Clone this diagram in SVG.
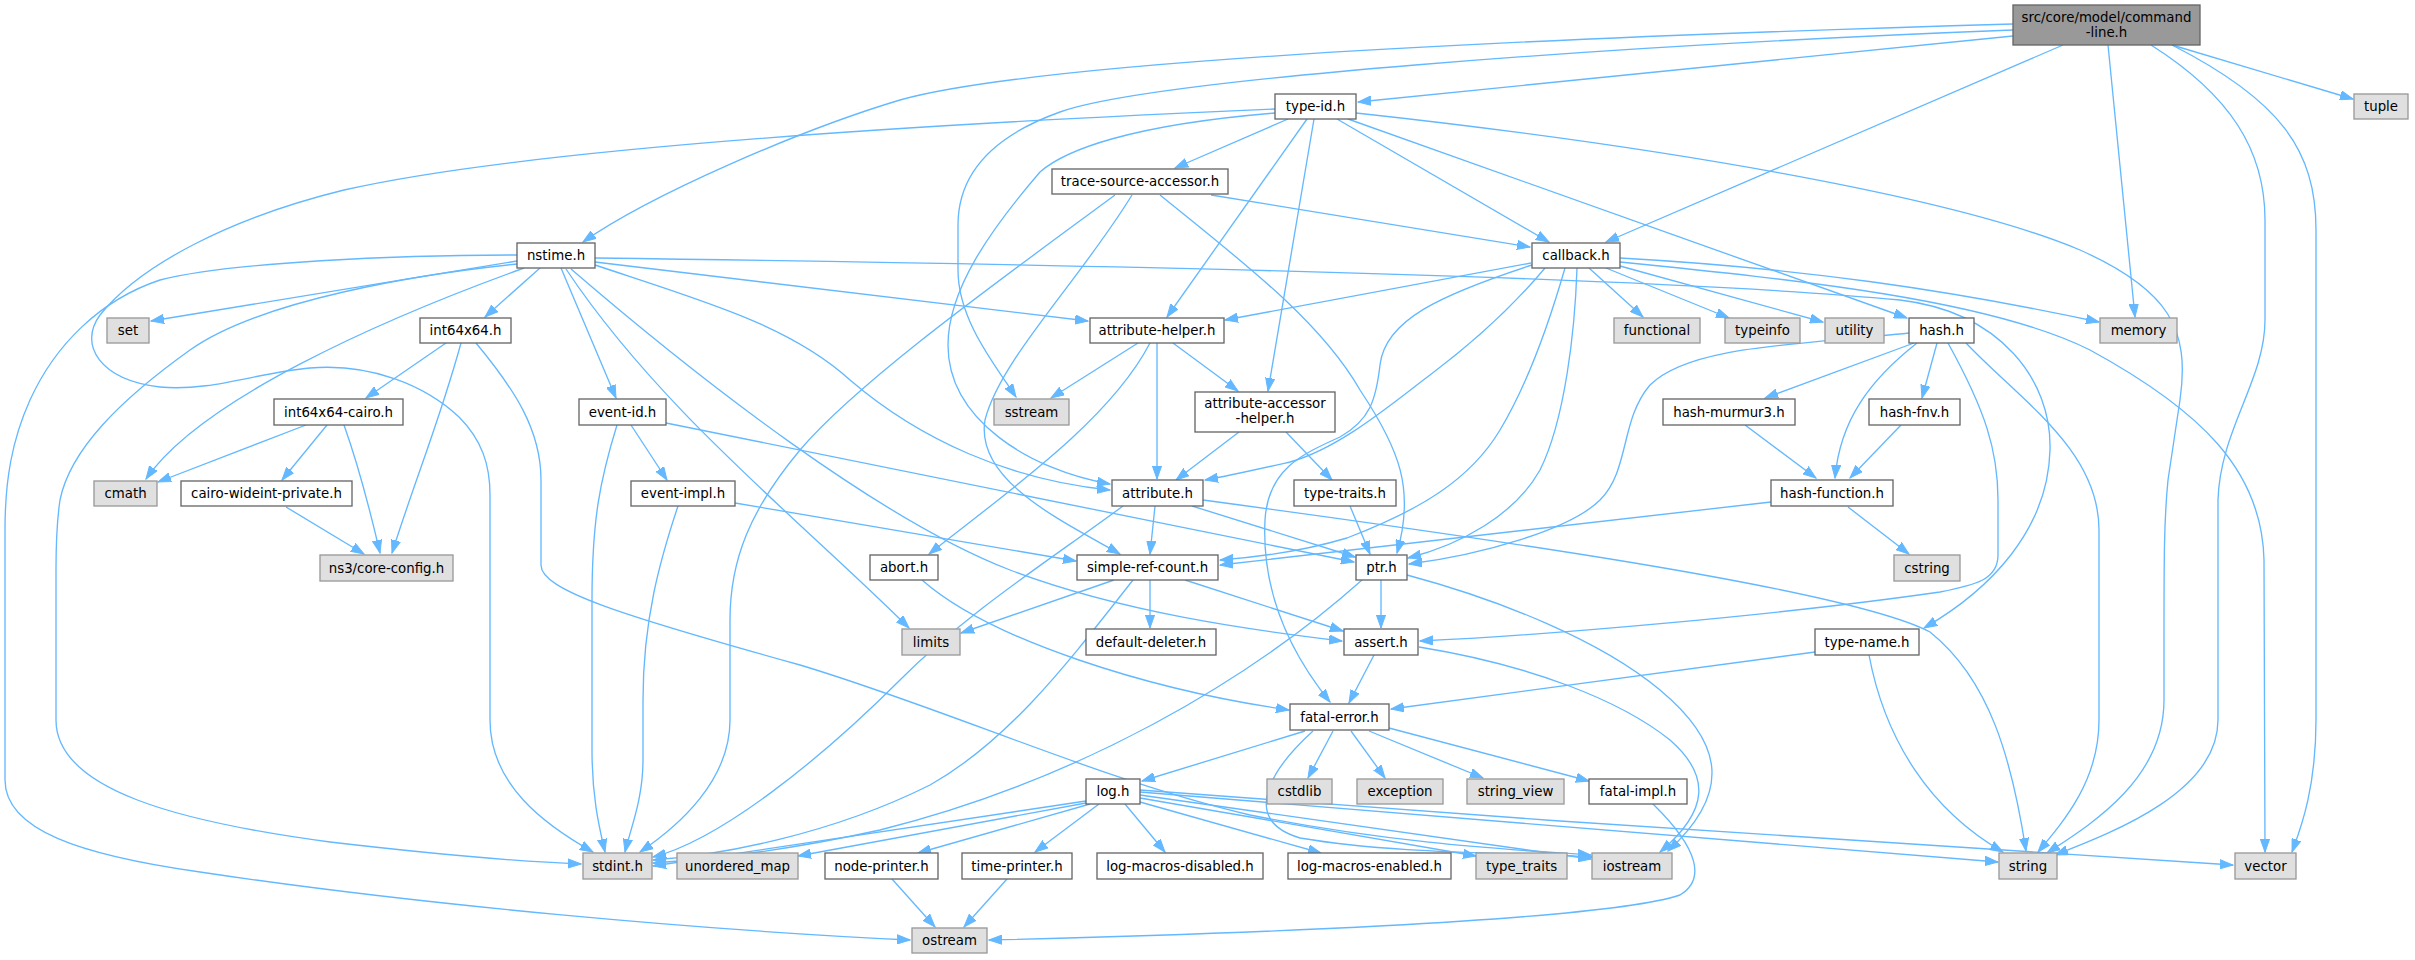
<svg xmlns="http://www.w3.org/2000/svg" width="2415" height="960" viewBox="0 0 2415 960">
<defs>
<style>
.w rect{fill:#ffffff;stroke:#666666;stroke-width:1.33}
.g rect{fill:#e0e0e0;stroke:#999999;stroke-width:1.33}
.r rect{fill:#999999;stroke:#666666;stroke-width:1.33}
text{font-family:"DejaVu Sans","Liberation Sans",sans-serif;font-size:13.33px;fill:#000000;text-anchor:middle}
#edges path{fill:none;stroke:#63b8ff;stroke-width:1.33;marker-end:url(#arr)}
</style>
<marker id="arr" markerWidth="14" markerHeight="10" refX="13" refY="5" orient="auto" markerUnits="userSpaceOnUse">
<path d="M0,0.4 L13,5 L0,9.6 z" fill="#63b8ff" stroke="#63b8ff" stroke-width="1"/>
</marker>
</defs>
<rect x="0" y="0" width="2415" height="960" fill="#ffffff"/>
<g id="edges">
<path d="M2013,24 C1600,36 1050,58 900,100 C800,130 650,195 583,242"/>
<path d="M2013,36 L1358,102"/>
<path d="M2013,30 C1600,46 1150,80 1060,112 C990,137 958,175 958,225 L958,270 C958,320 995,365 1016,397"/>
<path d="M2063,45 L1606,242"/>
<path d="M2108,45 L2135,317"/>
<path d="M2151,45 C2230,95 2265,150 2265,220 L2265,320 C2265,380 2220,430 2218,500 L2218,720 C2218,790 2120,830 2055,855"/>
<path d="M2172,45 C2280,100 2316,150 2316,230 L2316,720 C2316,790 2300,830 2292,852"/>
<path d="M2172,45 L2353,99"/>
<path d="M1275,109 C900,125 520,150 344,190 C230,218 140,265 100,315 C78,345 100,380 160,387 C210,392 260,372 310,368 C370,363 425,385 459,417 C482,440 490,465 490,495 L490,720 C490,785 545,825 593,852"/>
<path d="M1288,119 L1175,168"/>
<path d="M1275,113 C1130,125 1065,150 1040,172 C990,230 948,290 948,345 C948,420 1030,470 1110,484"/>
<path d="M1307,119 L1167,317"/>
<path d="M1314,119 L1268,391"/>
<path d="M1337,119 L1549,242"/>
<path d="M1348,119 L1907,318"/>
<path d="M1356,113 C1650,145 1950,195 2080,250 C2170,290 2190,330 2180,400 L2168,480 C2164,520 2164,560 2164,640 L2164,700 C2164,780 2090,825 2047,853"/>
<path d="M1115,195 C1000,280 860,380 800,450 C750,510 730,560 730,620 L730,720 C730,780 680,825 640,852"/>
<path d="M1132,195 C1080,280 1000,360 985,420 C975,480 1060,520 1120,554"/>
<path d="M1160,195 C1240,260 1320,320 1360,390 C1400,450 1415,490 1397,553"/>
<path d="M1211,195 L1530,247"/>
<path d="M517,255 C400,255 230,262 160,280 C100,300 55,345 30,400 C12,440 5,480 5,530 L5,780 C5,830 80,855 200,872 C420,905 700,930 910,940"/>
<path d="M517,261 L151,321"/>
<path d="M517,264 C420,274 260,300 190,350 C120,400 70,450 60,500 C57,520 56,540 56,570 L56,720 C56,790 180,822 330,842 C450,856 530,862 581,864"/>
<path d="M524,268 C380,320 200,400 146,479"/>
<path d="M540,268 L485,317"/>
<path d="M561,268 L616,398"/>
<path d="M566,269 C660,410 800,520 909,628"/>
<path d="M571,269 C700,380 880,520 1010,570 C1120,612 1250,630 1342,641"/>
<path d="M595,265 C700,300 790,325 850,380 C920,440 1010,480 1110,490"/>
<path d="M595,262 L1088,321"/>
<path d="M595,258 C900,262 1600,272 1900,300 C2000,312 2052,380 2050,450 C2048,530 1990,590 1924,628"/>
<path d="M446,343 L366,398"/>
<path d="M461,343 C440,420 415,480 392,553"/>
<path d="M476,343 C515,390 541,430 541,480 L541,565 C541,590 620,615 800,665 C950,710 1100,780 1250,815 C1400,845 1520,850 1591,855"/>
<path d="M306,425 L158,482"/>
<path d="M327,425 L282,480"/>
<path d="M344,425 C360,470 370,510 380,553"/>
<path d="M286,507 L364,554"/>
<path d="M617,425 C600,480 592,520 592,600 L592,750 C592,800 600,830 605,852"/>
<path d="M631,425 L667,480"/>
<path d="M666,423 L1354,562"/>
<path d="M678,506 C660,560 643,620 643,700 L643,760 C643,800 630,830 625,852"/>
<path d="M735,503 L1076,561"/>
<path d="M1138,343 L1051,398"/>
<path d="M1157,343 L1157,479"/>
<path d="M1173,343 L1238,391"/>
<path d="M1150,343 C1110,420 1010,490 929,554"/>
<path d="M1239,432 L1176,480"/>
<path d="M1286,432 L1332,480"/>
<path d="M1155,506 L1150,554"/>
<path d="M1192,506 L1355,557"/>
<path d="M1203,500 C1500,540 1850,590 1930,632 C1990,680 2012,760 2026,851"/>
<path d="M1123,506 C1050,560 970,610 900,680 C820,760 720,840 653,857"/>
<path d="M1350,506 L1370,554"/>
<path d="M1114,580 L961,633"/>
<path d="M1150,580 L1150,628"/>
<path d="M1185,580 L1343,631"/>
<path d="M1133,580 C1070,660 1010,740 930,785 C830,835 720,855 653,860"/>
<path d="M1381,580 L1381,628"/>
<path d="M1362,580 C1250,680 1080,780 880,830 C780,852 700,860 653,863"/>
<path d="M1407,575 C1500,600 1600,640 1660,690 C1720,740 1735,790 1668,851"/>
<path d="M1374,655 L1349,703"/>
<path d="M1419,647 C1530,665 1620,700 1670,740 C1710,775 1710,810 1660,852"/>
<path d="M1914,343 L1765,398"/>
<path d="M1937,343 L1922,398"/>
<path d="M1917,343 C1870,380 1840,420 1835,478"/>
<path d="M1909,333 C1800,345 1690,345 1650,385 C1620,420 1630,470 1600,500 C1570,530 1480,555 1409,564"/>
<path d="M1966,343 C2020,400 2099,450 2099,530 L2099,720 C2099,780 2065,820 2038,852"/>
<path d="M1948,343 C1985,410 1998,450 1998,500 L1998,555 C1998,580 1975,585 1940,592 C1780,615 1550,635 1420,641"/>
<path d="M1745,425 L1816,478"/>
<path d="M1901,425 L1850,478"/>
<path d="M1848,507 L1909,554"/>
<path d="M1771,502 L1220,565"/>
<path d="M1815,652 L1391,709"/>
<path d="M1869,655 C1885,740 1930,810 2003,852"/>
<path d="M1531,263 L1225,320"/>
<path d="M1545,268 C1510,310 1470,345 1430,375 C1390,405 1340,448 1290,462 C1250,471 1228,476 1205,480"/>
<path d="M1565,268 C1550,320 1530,380 1500,430 C1470,480 1420,510 1347,538 C1300,552 1260,557 1220,560"/>
<path d="M1577,268 C1575,330 1565,420 1540,470 C1515,515 1460,545 1408,558"/>
<path d="M1532,265 C1440,295 1385,320 1380,365 C1376,400 1370,420 1340,437 C1300,455 1268,470 1265,520 C1262,580 1280,640 1330,702"/>
<path d="M1589,268 L1643,317"/>
<path d="M1606,268 L1729,318"/>
<path d="M1620,266 L1823,322"/>
<path d="M1620,258 C1800,268 1950,290 2099,322"/>
<path d="M1620,262 C1800,280 1990,300 2090,350 C2200,410 2262,470 2264,560 L2265,852"/>
<path d="M1305,731 L1142,781"/>
<path d="M1333,731 L1308,778"/>
<path d="M1351,731 L1385,778"/>
<path d="M1369,731 L1483,778"/>
<path d="M1389,728 L1589,781"/>
<path d="M1313,731 C1270,770 1240,820 1300,838 C1400,855 1520,852 1592,857"/>
<path d="M1653,804 C1700,850 1705,880 1680,895 C1600,922 1200,935 989,940"/>
<path d="M1086,801 C900,828 760,850 653,866"/>
<path d="M1086,803 L798,856"/>
<path d="M1090,804 L918,853"/>
<path d="M1099,804 L1035,852"/>
<path d="M1125,804 L1165,852"/>
<path d="M1140,802 L1321,853"/>
<path d="M1140,798 L1476,856"/>
<path d="M1140,795 L1591,859"/>
<path d="M1140,792 L1998,862"/>
<path d="M1140,790 C1500,818 1900,845 2233,865"/>
<path d="M892,879 L935,927"/>
<path d="M1007,879 L964,927"/>
<path d="M922,580 C990,640 1150,690 1289,710"/>
</g>
<g id="n-root" class="r"><rect x="2013" y="5" width="187" height="40"/><text x="2106.5" y="21.5">src/core/model/command</text><text x="2106.5" y="36.5">-line.h</text></g>
<g id="n-type-id" class="w"><rect x="1275" y="94" width="81" height="25"/><text x="1315.5" y="111">type-id.h</text></g>
<g id="n-tuple" class="g"><rect x="2354" y="94" width="54" height="25"/><text x="2381" y="111">tuple</text></g>
<g id="n-trace-source-accessor" class="w"><rect x="1052" y="169" width="176" height="25"/><text x="1140" y="186">trace-source-accessor.h</text></g>
<g id="n-nstime" class="w"><rect x="517" y="243" width="78" height="25"/><text x="556" y="260">nstime.h</text></g>
<g id="n-callback" class="w"><rect x="1532" y="243" width="88" height="25"/><text x="1576" y="260">callback.h</text></g>
<g id="n-set" class="g"><rect x="107" y="318" width="42" height="25"/><text x="128" y="335">set</text></g>
<g id="n-int64x64" class="w"><rect x="420" y="318" width="91" height="25"/><text x="465.5" y="335">int64x64.h</text></g>
<g id="n-attribute-helper" class="w"><rect x="1090" y="318" width="134" height="25"/><text x="1157" y="335">attribute-helper.h</text></g>
<g id="n-functional" class="g"><rect x="1614" y="318" width="86" height="25"/><text x="1657" y="335">functional</text></g>
<g id="n-typeinfo" class="g"><rect x="1725" y="318" width="75" height="25"/><text x="1762.5" y="335">typeinfo</text></g>
<g id="n-utility" class="g"><rect x="1825" y="318" width="59" height="25"/><text x="1854.5" y="335">utility</text></g>
<g id="n-hash" class="w"><rect x="1909" y="318" width="65" height="25"/><text x="1941.5" y="335">hash.h</text></g>
<g id="n-memory" class="g"><rect x="2100" y="318" width="77" height="25"/><text x="2138.5" y="335">memory</text></g>
<g id="n-int64x64-cairo" class="w"><rect x="274" y="399" width="129" height="26"/><text x="338.5" y="416.5">int64x64-cairo.h</text></g>
<g id="n-event-id" class="w"><rect x="579" y="399" width="87" height="26"/><text x="622.5" y="416.5">event-id.h</text></g>
<g id="n-sstream" class="g"><rect x="994" y="399" width="75" height="26"/><text x="1031.5" y="416.5">sstream</text></g>
<g id="n-attribute-accessor-helper" class="w"><rect x="1195" y="392" width="140" height="40"/><text x="1265" y="408">attribute-accessor</text><text x="1265" y="423">-helper.h</text></g>
<g id="n-hash-murmur3" class="w"><rect x="1663" y="399" width="132" height="26"/><text x="1729" y="416.5">hash-murmur3.h</text></g>
<g id="n-hash-fnv" class="w"><rect x="1869" y="399" width="91" height="26"/><text x="1914.5" y="416.5">hash-fnv.h</text></g>
<g id="n-cmath" class="g"><rect x="94" y="481" width="63" height="25"/><text x="125.5" y="498">cmath</text></g>
<g id="n-cairo-wideint-private" class="w"><rect x="181" y="481" width="171" height="25"/><text x="266.5" y="498">cairo-wideint-private.h</text></g>
<g id="n-event-impl" class="w"><rect x="631" y="481" width="104" height="25"/><text x="683" y="498">event-impl.h</text></g>
<g id="n-attribute" class="w"><rect x="1112" y="480" width="91" height="26"/><text x="1157.5" y="497.5">attribute.h</text></g>
<g id="n-type-traits-h" class="w"><rect x="1294" y="480" width="102" height="26"/><text x="1345" y="497.5">type-traits.h</text></g>
<g id="n-hash-function" class="w"><rect x="1771" y="480" width="122" height="26"/><text x="1832" y="497.5">hash-function.h</text></g>
<g id="n-core-config" class="g"><rect x="320" y="555" width="133" height="26"/><text x="386.5" y="572.5">ns3/core-config.h</text></g>
<g id="n-abort" class="w"><rect x="870" y="555" width="68" height="25"/><text x="904" y="572">abort.h</text></g>
<g id="n-simple-ref-count" class="w"><rect x="1077" y="555" width="141" height="25"/><text x="1147.5" y="572">simple-ref-count.h</text></g>
<g id="n-ptr" class="w"><rect x="1356" y="555" width="51" height="25"/><text x="1381.5" y="572">ptr.h</text></g>
<g id="n-cstring" class="g"><rect x="1894" y="555" width="66" height="26"/><text x="1927" y="572.5">cstring</text></g>
<g id="n-limits" class="g"><rect x="902" y="629" width="58" height="26"/><text x="931" y="646.5">limits</text></g>
<g id="n-default-deleter" class="w"><rect x="1086" y="629" width="130" height="26"/><text x="1151" y="646.5">default-deleter.h</text></g>
<g id="n-assert" class="w"><rect x="1344" y="629" width="74" height="26"/><text x="1381" y="646.5">assert.h</text></g>
<g id="n-type-name" class="w"><rect x="1815" y="629" width="104" height="26"/><text x="1867" y="646.5">type-name.h</text></g>
<g id="n-fatal-error" class="w"><rect x="1290" y="704" width="99" height="26"/><text x="1339.5" y="721.5">fatal-error.h</text></g>
<g id="n-log" class="w"><rect x="1086" y="779" width="54" height="25"/><text x="1113" y="796">log.h</text></g>
<g id="n-cstdlib" class="g"><rect x="1267" y="779" width="65" height="25"/><text x="1299.5" y="796">cstdlib</text></g>
<g id="n-exception" class="g"><rect x="1357" y="779" width="86" height="25"/><text x="1400" y="796">exception</text></g>
<g id="n-string_view" class="g"><rect x="1467" y="779" width="97" height="25"/><text x="1515.5" y="796">string_view</text></g>
<g id="n-fatal-impl" class="w"><rect x="1589" y="779" width="98" height="25"/><text x="1638" y="796">fatal-impl.h</text></g>
<g id="n-stdint" class="g"><rect x="583" y="853" width="69" height="26"/><text x="617.5" y="870.5">stdint.h</text></g>
<g id="n-unordered_map" class="g"><rect x="677" y="853" width="121" height="26"/><text x="737.5" y="870.5">unordered_map</text></g>
<g id="n-node-printer" class="w"><rect x="825" y="853" width="113" height="26"/><text x="881.5" y="870.5">node-printer.h</text></g>
<g id="n-time-printer" class="w"><rect x="962" y="853" width="110" height="26"/><text x="1017" y="870.5">time-printer.h</text></g>
<g id="n-log-macros-disabled" class="w"><rect x="1097" y="853" width="166" height="26"/><text x="1180" y="870.5">log-macros-disabled.h</text></g>
<g id="n-log-macros-enabled" class="w"><rect x="1288" y="853" width="163" height="26"/><text x="1369.5" y="870.5">log-macros-enabled.h</text></g>
<g id="n-type_traits" class="g"><rect x="1476" y="853" width="91" height="26"/><text x="1521.5" y="870.5">type_traits</text></g>
<g id="n-iostream" class="g"><rect x="1592" y="853" width="80" height="26"/><text x="1632" y="870.5">iostream</text></g>
<g id="n-string" class="g"><rect x="1999" y="853" width="58" height="26"/><text x="2028" y="870.5">string</text></g>
<g id="n-vector" class="g"><rect x="2235" y="853" width="61" height="26"/><text x="2265.5" y="870.5">vector</text></g>
<g id="n-ostream" class="g"><rect x="912" y="928" width="75" height="25"/><text x="949.5" y="945">ostream</text></g>
</svg>
